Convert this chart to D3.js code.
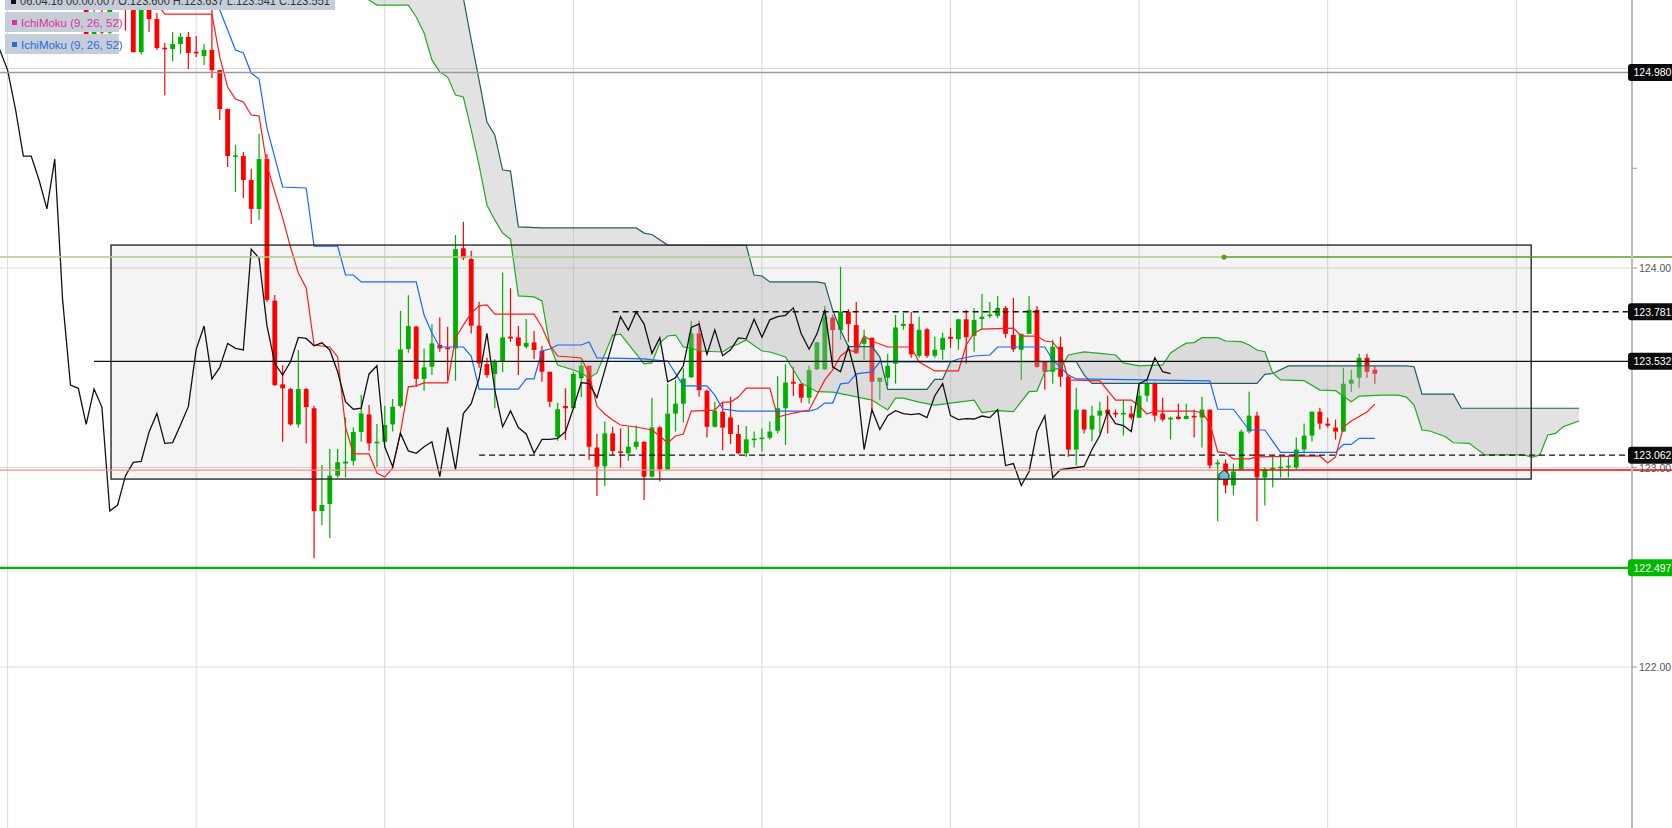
<!DOCTYPE html>
<html><head><meta charset="utf-8">
<script src="https://cdn.jsdelivr.net/npm/d3@7/dist/d3.min.js"></script>
<style>
html,body{margin:0;padding:0;background:#fff;overflow:hidden;}
svg{display:block;font-family:"Liberation Sans",Arial,sans-serif;}
</style></head><body>
<svg id="c" width="1672" height="828"></svg>
<script>
// ---------------- DATA ----------------
const firstIndex = -6;
const opens = [125.30,125.15,125.28,125.18,125.35,125.45,
125.33,125.082,125.30,125.248,125.10,125.098,125.123,125.158,125.080,125.063,
125.093,124.992,124.797,124.556,124.561,124.441,124.296,124.546,123.836,123.417,
123.393,123.216,123.393,123.297,122.782,122.817,122.959,123.02,123.033,123.178,
123.266,123.12,123.129,123.216,123.308,123.594,123.706,123.444,123.505,123.614,
123.597,123.597,124.099,124.045,123.711,123.518,123.469,123.530,123.656,123.652,
123.605,123.627,123.585,123.48,123.154,123.308,123.297,123.447,123.510,123.10,
123.006,123.171,123.077,123.071,123.104,123.129,122.954,123.201,122.99,123.27,
123.32,123.452,123.672,123.385,123.204,123.28,123.251,123.168,123.071,123.135,
123.14,123.149,123.184,123.297,123.43,123.42,123.35,123.492,123.492,123.752,
123.689,123.781,123.714,123.62,123.65,123.43,123.45,123.52,123.71,123.72,
123.56,123.693,123.56,123.59,123.655,123.643,123.743,123.66,123.744,123.755,
123.76,123.80,123.665,123.59,123.67,123.79,123.53,123.48,123.605,123.455,
123.09,123.29,123.19,123.26,123.29,123.27,123.265,123.27,123.25,123.36,
123.42,123.27,123.24,123.255,123.243,123.255,123.25,123.29,123.015,123.02,
122.91,122.99,123.18,123.26,122.95,122.99,122.995,123.0,123.0,123.09,
123.16,123.28,123.22,123.20,123.18,123.42,123.45,123.55,123.49];
const highs = [125.34,125.30,125.32,125.38,125.48,125.48,
125.36,125.36,125.35,125.278,125.128,125.183,125.178,125.183,125.163,125.123,
125.293,124.992,124.80,124.617,124.581,124.496,124.672,124.571,123.865,123.513,
123.40,123.589,123.40,123.31,123.012,123.093,123.093,123.25,123.20,123.363,
123.313,123.218,123.31,123.343,123.785,123.863,123.71,123.597,123.718,123.752,
123.706,124.165,124.232,124.087,123.831,123.55,123.542,123.978,123.898,123.709,
123.744,123.684,123.609,123.48,123.325,123.397,123.48,123.530,123.51,123.168,
123.23,123.204,123.196,123.204,123.21,123.13,123.35,123.208,123.42,123.44,
123.497,123.736,123.736,123.39,123.33,123.325,123.355,123.213,123.208,123.18,
123.196,123.23,123.459,123.518,123.505,123.42,123.51,123.63,123.81,123.764,
124.006,123.793,123.83,123.69,123.65,123.45,123.57,123.764,123.774,123.78,
123.756,123.70,123.655,123.675,123.70,123.745,123.79,123.80,123.87,123.83,
123.86,123.81,123.85,123.67,123.86,123.81,123.53,123.64,123.655,123.46,
123.40,123.29,123.31,123.33,123.36,123.29,123.34,123.31,123.42,123.44,
123.43,123.35,123.255,123.32,123.32,123.29,123.355,123.29,123.04,123.04,
123.02,123.19,123.38,123.28,123.0,123.06,123.06,123.06,123.15,123.22,
123.28,123.30,123.25,123.24,123.50,123.49,123.57,123.57,123.51];
const lows = [125.12,125.12,125.15,125.16,125.30,125.19,
125.08,125.07,125.183,125.093,124.867,125.038,125.073,124.997,125.058,125.018,
124.952,124.742,124.506,124.381,124.351,124.220,124.241,123.83,123.41,123.129,
123.21,123.20,123.12,122.545,122.711,122.646,122.95,122.95,123.01,123.13,
123.084,123.002,123.12,123.18,123.30,123.575,123.405,123.385,123.464,123.58,
123.435,123.435,124.04,123.672,123.50,123.45,123.297,123.477,123.63,123.464,
123.597,123.542,123.43,123.302,123.134,123.138,123.29,123.352,123.037,122.857,
122.907,123.063,123.0,123.034,123.09,122.837,122.95,122.93,122.99,123.18,
123.225,123.45,123.355,123.151,123.20,123.087,123.118,123.066,123.054,123.10,
123.08,123.14,123.17,123.113,123.358,123.325,123.32,123.49,123.49,123.497,
123.64,123.63,123.57,123.54,123.29,123.34,123.41,123.42,123.69,123.55,
123.55,123.55,123.55,123.54,123.60,123.59,123.52,123.58,123.69,123.75,
123.75,123.65,123.58,123.44,123.67,123.50,123.39,123.42,123.405,123.054,
123.01,123.17,123.13,123.17,123.17,123.25,123.16,123.24,123.25,123.33,
123.23,123.23,123.14,123.24,123.24,123.15,123.10,122.995,122.73,122.87,
122.86,122.99,123.17,122.73,122.81,122.90,122.95,122.95,122.99,123.07,
123.13,123.19,123.20,123.14,123.18,123.38,123.40,123.45,123.42];
const closes = [125.15,125.28,125.18,125.35,125.45,125.31,
125.082,125.33,125.248,125.103,125.095,125.123,125.158,125.078,125.075,125.093,
124.992,124.797,124.561,124.561,124.441,124.296,124.546,123.840,123.413,123.397,
123.216,123.393,123.303,122.782,122.812,122.959,123.026,123.03,123.178,123.271,
123.121,123.125,123.213,123.305,123.592,123.709,123.444,123.502,123.622,123.597,
123.589,124.095,124.049,123.711,123.522,123.463,123.530,123.652,123.647,123.610,
123.625,123.589,123.48,123.33,123.292,123.297,123.469,123.510,123.104,123.004,
123.171,123.083,123.071,123.104,123.129,122.954,123.201,122.99,123.27,123.32,
123.446,123.672,123.388,123.204,123.284,123.20,123.168,123.071,123.141,123.141,
123.146,123.18,123.297,123.426,123.42,123.35,123.488,123.627,123.756,123.689,
123.781,123.719,123.572,123.65,123.43,123.45,123.51,123.702,123.72,123.567,
123.69,123.56,123.59,123.65,123.645,123.743,123.653,123.74,123.756,123.763,
123.80,123.67,123.593,123.67,123.79,123.505,123.48,123.605,123.455,123.09,
123.29,123.19,123.26,123.285,123.27,123.265,123.27,123.25,123.36,123.42,
123.26,123.24,123.245,123.243,123.258,123.25,123.29,123.01,123.02,122.91,
122.98,123.18,123.26,122.95,122.99,122.995,123.0,123.005,123.09,123.16,
123.28,123.22,123.21,123.18,123.42,123.44,123.55,123.48,123.47];

// Ichimoku lines: [candle index, price]
const tenkan = [[3,125.328],[4,125.273],[10,125.273],[11,125.058],[12,124.907],[13,124.847],[14,124.832],[15,124.767],[16,124.762],[17,124.516],[18,124.381],[19,124.251],[20,124.105],[21,123.975],[22,123.900],[23,123.614],[25,123.604],[26,123.554],[27,123.203],[28,123.068],[30,123.068],[31,122.972],[32,122.952],[33,122.997],[34,123.178],[35,123.404],[36,123.409],[37,123.424],[40,123.424],[41,123.649],[42,123.714],[43,123.774],[44,123.810],[45,123.815],[46,123.769],[51,123.769],[52,123.704],[53,123.614],[54,123.559],[57,123.549],[58,123.469],[59,123.308],[60,123.268],[61,123.238],[62,123.213],[64,123.203],[66,123.188],[67,123.158],[68,123.123],[69,123.158],[70,123.168],[71,123.283],[74,123.288],[75,123.328],[76,123.328],[77,123.353],[78,123.398],[81,123.398],[82,123.253],[83,123.263],[84,123.273],[86,123.288],[88,123.439],[89,123.489],[90,123.559],[91,123.589],[92,123.579],[93,123.659],[94,123.634],[96,123.604],[99,123.604],[100,123.529],[102,123.484],[105,123.484],[106,123.614],[107,123.674],[108,123.694],[112,123.699],[113,123.659],[115,123.659],[116,123.634],[117,123.629],[118,123.579],[119,123.439],[123,123.434],[125,123.338],[127,123.338],[128,123.308],[129,123.268],[130,123.283],[135,123.283],[136,123.273],[137,123.223],[138,123.078],[139,123.073],[140,123.043],[142,123.043],[143,123.053],[151,123.058],[152,123.023],[153,123.053],[154,123.203],[155,123.233],[157,123.278],[158,123.318]];
const kijun = [[10,125.393],[11,125.293],[12,125.193],[13,125.093],[14,125.078],[15,124.977],[16,124.947],[17,124.702],[19,124.406],[22,124.401],[23,124.110],[26,124.110],[27,123.965],[28,123.965],[29,123.930],[36,123.930],[37,123.764],[38,123.674],[39,123.604],[42,123.604],[43,123.559],[44,123.393],[49,123.393],[50,123.444],[51,123.444],[52,123.584],[53,123.594],[54,123.614],[57,123.614],[58,123.629],[59,123.549],[65,123.544],[66,123.539],[68,123.534],[70,123.409],[73,123.409],[74,123.363],[75,123.293],[77,123.283],[86,123.283],[87,123.293],[88,123.323],[89,123.323],[90,123.419],[91,123.424],[92,123.469],[94,123.479],[95,123.529],[104,123.529],[105,123.544],[107,123.559],[109,123.564],[110,123.604],[116,123.604],[117,123.539],[119,123.464],[120,123.444],[137,123.434],[138,123.292],[140,123.292],[142,123.188],[144,123.188],[146,123.076],[153,123.076],[154,123.116],[155,123.116],[156,123.146],[158,123.146]];
const senkouA = [[29,125.494],[30,125.343],[31,125.318],[35,125.318],[36,125.258],[37,125.178],[38,125.043],[39,124.982],[40,124.957],[41,124.867],[42,124.857],[43,124.692],[44,124.516],[45,124.316],[46,124.241],[47,124.175],[48,124.145],[49,123.860],[51,123.855],[52,123.835],[53,123.614],[54,123.514],[56,123.489],[57,123.474],[58,123.449],[59,123.474],[61,123.664],[62,123.669],[65,123.519],[66,123.524],[67,123.624],[68,123.659],[69,123.664],[70,123.604],[71,123.599],[72,123.584],[75,123.579],[76,123.604],[77,123.619],[78,123.639],[80,123.584],[81,123.579],[83,123.554],[85,123.424],[87,123.380],[89,123.378],[91,123.363],[94,123.338],[96,123.288],[97,123.348],[98,123.348],[100,123.328],[102,123.313],[104,123.323],[107,123.338],[108,123.275],[110,123.285],[112,123.280],[114,123.380],[115,123.383],[116,123.480],[118,123.499],[119,123.564],[121,123.580],[123,123.572],[125,123.564],[126,123.524],[128,123.509],[131,123.514],[132,123.574],[133,123.600],[134,123.623],[135,123.626],[136,123.651],[138,123.651],[139,123.634],[141,123.631],[142,123.614],[143,123.589],[144,123.580],[145,123.474],[146,123.439],[149,123.435],[151,123.388],[153,123.385],[155,123.330],[156,123.358],[159,123.363],[161,123.363],[162,123.353],[163,123.313],[164,123.188],[165,123.183],[167,123.154],[168,123.124],[170,123.121],[172,123.063],[177,123.063],[178,123.051],[179,123.063],[180,123.163],[181,123.171],[182,123.205],[184,123.233]];
const senkouB = [[41,125.494],[42,125.353],[43,125.143],[44,124.942],[45,124.732],[46,124.667],[47,124.491],[48,124.486],[49,124.206],[52,124.201],[64,124.201],[65,124.175],[66,124.168],[68,124.115],[78,124.113],[79,123.965],[80,123.960],[81,123.930],[87,123.930],[88,123.923],[89,123.789],[90,123.689],[91,123.606],[94,123.606],[95,123.555],[96,123.392],[101,123.392],[102,123.442],[103,123.442],[104,123.530],[120,123.530],[121,123.464],[122,123.422],[143,123.422],[144,123.467],[145,123.471],[147,123.509],[162,123.509],[163,123.505],[164,123.368],[168,123.368],[169,123.297],[184,123.297]];
const chikouShift = 26;

// Drawn objects (prices / candle indices)
const gridIndices = [-16, 8, 32, 56, 80, 104, 128, 152, 176];
const gridPrices = [122, 123, 124, 125];
const tickPrices = [122, 122.5, 123, 123.5, 124, 124.5, 125];
const tickLabels = ["122.00", "", "123.00", "", "124.00", "", ""];
const boxZone = [-2.84, 177.9, 124.115, 122.942];
const levelPrices = [124.980, 123.781, 123.532, 123.062, 122.497];
const levelLabels = ["124.980", "123.781", "123.532", "123.062", "122.497"];
const levelStarts = [null, 61, -5, 44, null];
const olivePrice = 124.055, redPrice = 122.987, anchorIndex = 138.8, markerPrice = 122.962;
const headerText = "06.04.16 00:00:00 / O:123.600  H:123.637  L:123.541  C:123.551";
const legendTexts = ["IchiMoku (9, 26, 52)", "IchiMoku (9, 26, 52)"];

// ---------------- CHART ----------------
const W = 1672, H = 828, plotR = 1632;
const svg = d3.select("#c");
const x = d3.scaleLinear().domain([8, 152]).range([196.2, 1327.7]);
const y = d3.scaleLinear().domain([122, 124]).range([667, 268]);

svg.append("rect").attr("width", W).attr("height", H).attr("fill", "#fff");
svg.append("defs").append("clipPath").attr("id", "plot")
  .append("rect").attr("x", 0).attr("y", 0).attr("width", plotR).attr("height", H);
const g = svg.append("g").attr("clip-path", "url(#plot)");

// grid
g.selectAll(".vg").data(gridIndices).join("line")
  .attr("x1", d => x(d)).attr("x2", d => x(d)).attr("y1", 0).attr("y2", H)
  .attr("stroke", "#d9d9d9").attr("stroke-width", 1);
g.selectAll(".hg").data(gridPrices).join("line")
  .attr("x1", 0).attr("x2", plotR).attr("y1", d => y(d)).attr("y2", d => y(d))
  .attr("stroke", "#d9d9d9").attr("stroke-width", 1);

// zone rectangle fill
g.append("rect")
  .attr("x", x(boxZone[0])).attr("y", y(boxZone[2]))
  .attr("width", x(boxZone[1]) - x(boxZone[0])).attr("height", y(boxZone[3]) - y(boxZone[2]))
  .attr("fill", "rgba(0,0,0,0.045)");

// candles
const candles = opens.map((o, k) => ({i: k + firstIndex, o, h: highs[k], l: lows[k], c: closes[k]}));
const up = "#00b000", dn = "#ff0000";
const cg = g.append("g");
cg.selectAll("line").data(candles).join("line")
  .attr("x1", d => x(d.i)).attr("x2", d => x(d.i))
  .attr("y1", d => y(d.h)).attr("y2", d => y(d.l))
  .attr("stroke", d => d.c >= d.o ? up : dn).attr("stroke-width", 1.2);
cg.selectAll("rect").data(candles).join("rect")
  .attr("x", d => x(d.i) - 2.4).attr("width", 4.8)
  .attr("y", d => Math.min(y(d.o), y(d.c)) - (Math.abs(y(d.o) - y(d.c)) < 1.6 ? 0.8 : 0))
  .attr("height", d => Math.max(1.6, Math.abs(y(d.o) - y(d.c))))
  .attr("fill", d => d.c >= d.o ? up : dn);

// cloud
const pt = d => [x(d[0]), y(d[1])];
const poly = senkouA.map(pt).concat(senkouB.slice().reverse().map(pt));
g.append("path").attr("d", "M" + poly.map(p => p.join(",")).join("L") + "Z")
  .attr("fill", "#b0b0b0").attr("fill-opacity", 0.36).attr("stroke", "none");

const line = d3.line().x(d => x(d[0])).y(d => y(d[1]));
g.append("path").attr("d", line(senkouB)).attr("fill", "none").attr("stroke", "#1f5f62").attr("stroke-width", 1.2);
g.append("path").attr("d", line(senkouA)).attr("fill", "none").attr("stroke", "#22aa22").attr("stroke-width", 1.2);
g.append("path").attr("d", line(kijun)).attr("fill", "none").attr("stroke", "#1a66ff").attr("stroke-width", 1.2);
g.append("path").attr("d", line(tenkan)).attr("fill", "none").attr("stroke", "#ff1a1a").attr("stroke-width", 1.2);
// chikou: closes plotted 26 candles back
const chik = candles.filter(d => d.i >= 8).map(d => [d.i - chikouShift, d.c]);
g.append("path").attr("d", line(chik)).attr("fill", "none").attr("stroke", "#111").attr("stroke-width", 1.3);

// zone border
g.append("rect")
  .attr("x", x(boxZone[0])).attr("y", y(boxZone[2]))
  .attr("width", x(boxZone[1]) - x(boxZone[0])).attr("height", y(boxZone[3]) - y(boxZone[2]))
  .attr("fill", "none").attr("stroke", "#2a2a2a").attr("stroke-width", 1.4);

// horizontal levels
const hl = svg.append("g");
const xa = x(anchorIndex);
hl.append("line").attr("x1", 0).attr("x2", plotR).attr("y1", y(levelPrices[0])).attr("y2", y(levelPrices[0]))
  .attr("stroke", "#9a9a9a").attr("stroke-width", 1.5);
hl.append("line").attr("x1", 0).attr("x2", xa).attr("y1", y(olivePrice)).attr("y2", y(olivePrice))
  .attr("stroke", "#aecb88").attr("stroke-width", 1.4);
hl.append("line").attr("x1", xa).attr("x2", W).attr("y1", y(olivePrice)).attr("y2", y(olivePrice))
  .attr("stroke", "#5f9c1e").attr("stroke-width", 1.5);
hl.append("circle").attr("cx", xa).attr("cy", y(olivePrice)).attr("r", 2.6).attr("fill", "#5f9c1e");
[1, 2, 3].forEach(k => {
  hl.append("line").attr("x1", x(levelStarts[k])).attr("x2", plotR)
    .attr("y1", y(levelPrices[k])).attr("y2", y(levelPrices[k]))
    .attr("stroke", "#111").attr("stroke-width", 1.4)
    .attr("stroke-dasharray", k === 2 ? null : "6,4");
});
hl.append("line").attr("x1", 0).attr("x2", xa).attr("y1", y(redPrice)).attr("y2", y(redPrice))
  .attr("stroke", "#ff8a8a").attr("stroke-width", 1.3);
hl.append("line").attr("x1", xa).attr("x2", W).attr("y1", y(redPrice)).attr("y2", y(redPrice))
  .attr("stroke", "#ff0000").attr("stroke-width", 1.5);
hl.append("line").attr("x1", 0).attr("x2", plotR).attr("y1", y(levelPrices[4])).attr("y2", y(levelPrices[4]))
  .attr("stroke", "#00b400").attr("stroke-width", 2.4);
const mx = xa, my = y(markerPrice);
hl.append("path")
  .attr("d", `M${mx - 5},${my + 4} L${mx - 5},${my - 1} L${mx},${my - 5} L${mx + 5},${my - 1} L${mx + 5},${my + 4} Z`)
  .attr("fill", "#6cc0d2").attr("stroke", "#222").attr("stroke-width", 1);

// axis
const ax = svg.append("g");
ax.append("line").attr("x1", plotR).attr("x2", plotR).attr("y1", 0).attr("y2", H)
  .attr("stroke", "#bdbdbd").attr("stroke-width", 2);
ax.selectAll(".tk").data(tickPrices).join("line")
  .attr("x1", plotR).attr("x2", plotR + 5).attr("y1", d => y(d)).attr("y2", d => y(d))
  .attr("stroke", "#999").attr("stroke-width", 1);
ax.selectAll(".tl").data(tickPrices.filter((d, k) => tickLabels[k])).join("text")
  .attr("x", plotR + 7).attr("y", d => y(d) + 4)
  .attr("font-size", 10.5).attr("fill", "#555")
  .text(d => tickLabels[tickPrices.indexOf(d)]);

levelPrices.forEach((p, k) => {
  const yy = y(p);
  ax.append("rect").attr("x", plotR - 4).attr("y", yy - 8.5).attr("width", 60).attr("height", 17)
    .attr("rx", 3).attr("fill", k === 4 ? "#00b800" : "#0a0a0a");
  ax.append("text").attr("x", plotR + 1.5).attr("y", yy + 4).attr("font-size", 10.5)
    .attr("fill", "#fff").text(levelLabels[k]);
});

// header + legends
const hd = svg.append("g");
hd.append("rect").attr("x", 5).attr("y", -10).attr("width", 330).attr("height", 20).attr("fill", "#c5cdd9");
hd.append("rect").attr("x", 11).attr("y", -1).attr("width", 5).attr("height", 5).attr("fill", "#111");
hd.append("text").attr("x", 20).attr("y", 4.5).attr("font-size", 12).attr("fill", "#333")
  .attr("textLength", 310).attr("lengthAdjust", "spacingAndGlyphs").text(headerText);
const legColors = ["#e0309a", "#2a6ae0"];
legendTexts.forEach((t, k) => {
  const y0 = 12 + k * 22;
  hd.append("rect").attr("x", 5).attr("y", y0).attr("width", 114).attr("height", 20).attr("fill", "#c5cdd9");
  hd.append("rect").attr("x", 12).attr("y", y0 + 8).attr("width", 5).attr("height", 5).attr("fill", legColors[k]);
  hd.append("text").attr("x", 21).attr("y", y0 + 14.5).attr("font-size", 11.5).attr("fill", legColors[k]).text(t);
});
</script>
</body></html>
